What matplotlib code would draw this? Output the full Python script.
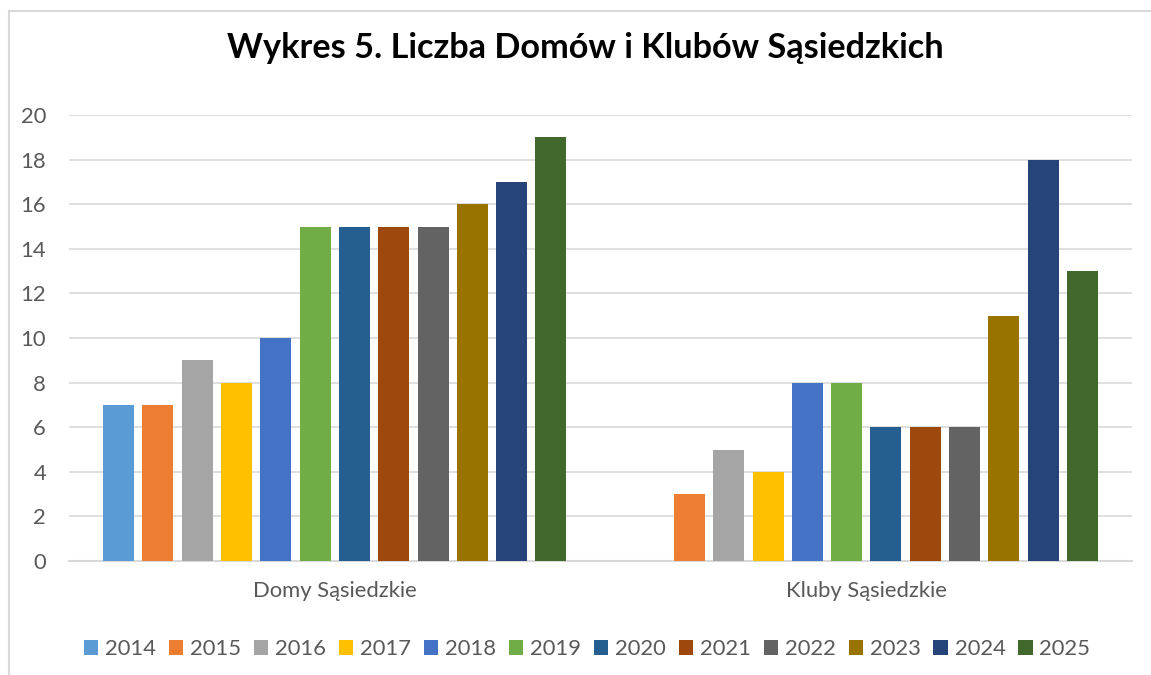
import matplotlib
matplotlib.use("Agg")
import matplotlib.pyplot as plt
from matplotlib.patches import Patch, Rectangle
import numpy as np

plt.rcParams['font.family'] = ['Lato', 'DejaVu Sans']

categories = ["Domy Sąsiedzkie", "Kluby Sąsiedzkie"]
years = ["2014", "2015", "2016", "2017", "2018", "2019", "2020", "2021", "2022", "2023", "2024", "2025"]
domy = [7, 7, 9, 8, 10, 15, 15, 15, 15, 16, 17, 19]
kluby = [0, 3, 5, 4, 8, 8, 6, 6, 6, 11, 18, 13]
colors = ["#5B9BD5", "#ED7D31", "#A5A5A5", "#FFC000", "#4472C4", "#70AD47",
          "#255E91", "#9E480E", "#636363", "#997300", "#264478", "#43682B"]
yticks = [0, 2, 4, 6, 8, 10, 12, 14, 16, 18, 20]
title = "Wykres 5. Liczba Domów i Klubów Sąsiedzkich"

fig = plt.figure(figsize=(11.51, 6.75), dpi=100)
fig.patch.set_facecolor("white")
fig.add_artist(Rectangle((9/1151, -0.1), 1.2, (675-11)/675 + 0.1, transform=fig.transFigure,
                         fill=False, edgecolor="#D9D9D9", linewidth=1.5))

ax = fig.add_axes([69/1151, (675-561)/675, 1063/1151, 446/675])
x = np.arange(len(categories))
pitch = 39.3/531.5
bw = 31/531.5
n = len(years)
for i, (yr, c) in enumerate(zip(years, colors)):
    vals = [domy[i], kluby[i]]
    ax.bar(x + (i - (n-1)/2)*pitch, vals, width=bw, color=c, label=yr, zorder=3)

fs = 15.8
ax.set_xlim(-0.5, 1.5)
ax.set_ylim(0, 20)
ax.set_yticks(yticks)
ax.set_xticks(x)
ax.set_xticklabels(categories)
ax.yaxis.grid(True, color="#D9D9D9", linewidth=1.2, zorder=0)
for s in ["top", "right", "left"]:
    ax.spines[s].set_visible(False)
ax.spines["bottom"].set_color("#D9D9D9")
ax.spines["bottom"].set_linewidth(1.5)
ax.tick_params(axis="both", length=0, colors="#595959", labelsize=fs)
ax.tick_params(axis="y", pad=16.5)
ax.tick_params(axis="x", pad=14.5)
for lbl in ax.get_yticklabels():
    lbl.set_horizontalalignment("right")

fig.text(585/1151, 1 - 48/675, title, ha="center", va="center",
         fontsize=24.7, fontweight="bold", color="black")

handles = [Patch(facecolor=c, edgecolor="none") for c in colors]
leg = fig.legend(handles, years, loc="center", bbox_to_anchor=(587/1151, 1 - 649/675), ncol=12,
                 frameon=False, fontsize=fs, handlelength=0.66, handleheight=0.66,
                 handletextpad=0.3, columnspacing=0.59, labelcolor="#595959",
                 borderpad=0, borderaxespad=0)

fig.savefig("out.png", dpi=100, facecolor="white")
